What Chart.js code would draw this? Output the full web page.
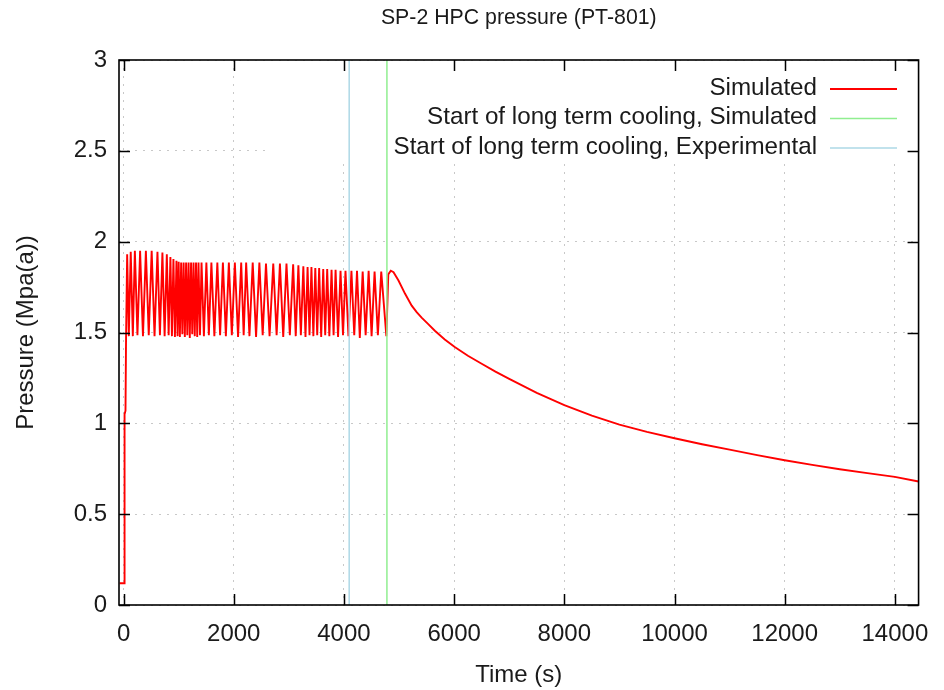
<!DOCTYPE html>
<html>
<head>
<meta charset="utf-8">
<title>SP-2 HPC pressure</title>
<script src="https://cdn.jsdelivr.net/npm/chart.js@4.4.1/dist/chart.umd.min.js"></script>
<style>
  html, body { margin: 0; padding: 0; background: #fff; }
</style>
</head>
<body>
<canvas id="pressure-chart" width="944" height="690"></canvas>
<script>
// SP-2 HPC pressure, PT-801 — simulated trace plus the two long term cooling markers

const FONT = "'Liberation Sans', Arial, sans-serif";

const xTicks = [0, 2000, 4000, 6000, 8000, 10000, 12000, 14000];
const yTicks = [0, 0.5, 1, 1.5, 2, 2.5, 3];
const X_MIN = -83;
const X_MAX = 14430;

// [time s, pressure MPa(a)]
const rampUp = [
    [-72, 0.12], [18, 0.12], [18, 1.05], [35, 1.07]
];

// relief valve cycling until long term cooling starts
const cycling = [
    [45, 1.47], [65, 1.93], [95, 1.48], [130, 1.945], [168, 1.48], [205, 1.95],
    [252, 1.485], [300, 1.95], [352, 1.48], [405, 1.95], [457, 1.485], [510, 1.95],
    [562, 1.48], [615, 1.945], [660, 1.485], [705, 1.94], [745, 1.48], [785, 1.93],
    [818, 1.485], [850, 1.915], [878, 1.48], [905, 1.905], [932, 1.475], [960, 1.895],
    [980, 1.48], [1000, 1.89], [1022, 1.475], [1045, 1.885], [1067, 1.49], [1090, 1.885],
    [1112, 1.475], [1135, 1.885], [1157, 1.485], [1180, 1.885], [1202, 1.47], [1225, 1.885],
    [1247, 1.49], [1270, 1.885], [1292, 1.48], [1315, 1.885], [1337, 1.475], [1360, 1.885],
    [1387, 1.485], [1415, 1.885], [1458, 1.48], [1503, 1.885], [1548, 1.485], [1594, 1.885],
    [1648, 1.48], [1702, 1.885], [1752, 1.485], [1803, 1.885], [1857, 1.48], [1911, 1.885],
    [1965, 1.485], [2020, 1.885], [2078, 1.475], [2135, 1.885], [2180, 1.485], [2225, 1.885],
    [2285, 1.48], [2344, 1.885], [2405, 1.475], [2465, 1.885], [2525, 1.485], [2585, 1.88],
    [2650, 1.48], [2717, 1.88], [2778, 1.485], [2838, 1.88], [2898, 1.475], [2957, 1.88],
    [3018, 1.485], [3078, 1.875], [3125, 1.48], [3173, 1.87], [3218, 1.485], [3263, 1.865],
    [3302, 1.475], [3340, 1.86], [3375, 1.485], [3410, 1.86], [3445, 1.48], [3480, 1.855],
    [3515, 1.485], [3550, 1.855], [3587, 1.475], [3624, 1.85], [3660, 1.485], [3696, 1.85],
    [3735, 1.48], [3775, 1.845], [3812, 1.485], [3848, 1.845], [3893, 1.475], [3938, 1.84],
    [3983, 1.485], [4028, 1.84], [4082, 1.48], [4136, 1.84], [4187, 1.485], [4237, 1.84],
    [4288, 1.47], [4340, 1.835], [4394, 1.485], [4448, 1.84], [4502, 1.48], [4556, 1.835],
    [4616, 1.485], [4677, 1.835], [4770, 1.48]
];

const cooldown = [
    [4805, 1.82], [4850, 1.84], [4900, 1.832], [4990, 1.786], [5110, 1.713], [5230, 1.648],
    [5320, 1.612], [5410, 1.582], [5530, 1.546], [5650, 1.51], [5830, 1.462], [6011, 1.42],
    [6250, 1.372], [6500, 1.328], [6750, 1.285], [7000, 1.245], [7500, 1.168], [8000, 1.10],
    [8500, 1.042], [9000, 0.993], [9500, 0.953], [10000, 0.918], [10500, 0.885], [11000, 0.855],
    [11500, 0.825], [12000, 0.797], [12500, 0.771], [13000, 0.747], [13500, 0.726],
    [14000, 0.705], [14430, 0.68]
];

const coolingStartSim = 4780;
const coolingStartExp = 4095;

const toPoints = rows => rows.map(([x, y]) => ({ x, y }));
const marker = t => [{ x: t, y: yTicks[0] }, { x: t, y: yTicks[yTicks.length - 1] }];

// gnuplot-ish frame: mirrored inward ticks, key box that hides the grid
const framePlugin = {
    id: 'gnuplot-frame',
    beforeDatasetsDraw(chart) {
        const { ctx, chartArea: { right, top } } = chart;
        ctx.save();
        ctx.fillStyle = '#fff';
        ctx.fillRect(270, top + 1, right - 271, 101);
        ctx.restore();
    },
    afterDatasetsDraw(chart) {
        const { ctx, chartArea: { left, right, top, bottom }, scales: { x, y } } = chart;
        const len = 11;
        ctx.save();
        ctx.strokeStyle = '#000';
        ctx.lineWidth = 1.5;
        ctx.beginPath();
        xTicks.forEach(v => {
            const px = Math.round(x.getPixelForValue(v)) + 0.5;
            ctx.moveTo(px, bottom); ctx.lineTo(px, bottom - len);
            ctx.moveTo(px, top); ctx.lineTo(px, top + len);
        });
        yTicks.forEach(v => {
            const py = Math.round(y.getPixelForValue(v)) + 0.5;
            ctx.moveTo(left, py); ctx.lineTo(left + len, py);
            ctx.moveTo(right, py); ctx.lineTo(right - len, py);
        });
        ctx.stroke();
        ctx.lineWidth = 1.6;
        ctx.strokeRect(left, top, right - left, bottom - top);

        // key, text right aligned with the line sample after it
        ctx.font = `24.2px ${FONT}`;
        ctx.textAlign = 'right';
        ctx.textBaseline = 'middle';
        chart.data.datasets.forEach((ds, i) => {
            const ky = 88 + i * 29.5;
            ctx.fillStyle = '#1a1a1a';
            ctx.fillText(ds.label, 817, ky);
            ctx.beginPath();
            ctx.strokeStyle = ds.borderColor;
            ctx.lineWidth = ds.borderWidth;
            ctx.moveTo(830, ky + 1);
            ctx.lineTo(897, ky + 1);
            ctx.stroke();
        });
        ctx.restore();
    }
};

new Chart(document.getElementById('pressure-chart'), {
    type: 'line',
    data: {
        datasets: [
            {
                label: 'Simulated',
                data: toPoints([...rampUp, ...cycling, ...cooldown]),
                borderColor: '#ff0000',
                borderWidth: 1.9,
                order: 3
            },
            {
                label: 'Start of long term cooling, Simulated',
                data: marker(coolingStartSim),
                borderColor: '#90ee90',
                borderWidth: 1.5,
                order: 2
            },
            {
                label: 'Start of long term cooling, Experimental',
                data: marker(coolingStartExp),
                borderColor: '#add8e6',
                borderWidth: 1.5,
                order: 1
            }
        ]
    },
    options: {
        responsive: false,
        animation: false,
        events: [],
        elements: {
            point: { radius: 0 },
            line: { tension: 0, fill: false }
        },
        layout: { padding: { left: 0, right: 20, top: 0, bottom: 0 } },
        plugins: {
            legend: { display: false },
            tooltip: { enabled: false },
            title: {
                display: true,
                fullSize: false,
                text: 'SP-2 HPC pressure (PT-801)',
                color: '#1a1a1a',
                font: { family: FONT, size: 21.3, weight: 'normal' },
                padding: { top: 5, bottom: 29.44 }
            }
        },
        scales: {
            x: {
                type: 'linear',
                min: X_MIN,
                max: X_MAX,
                afterBuildTicks: s => { s.ticks = xTicks.map(v => ({ value: v })); },
                afterFit: s => { s.height = 85; },
                grid: { color: '#c8c8c8', lineWidth: 1, drawTicks: false },
                border: { display: false, dash: [2, 6] },
                ticks: {
                    autoSkip: false,
                    maxRotation: 0,
                    padding: 15,
                    color: '#1a1a1a',
                    font: { family: FONT, size: 24 },
                    callback: v => String(v)
                },
                title: {
                    display: true,
                    text: 'Time (s)',
                    color: '#1a1a1a',
                    font: { family: FONT, size: 24 },
                    padding: { top: 0, bottom: 0 }
                }
            },
            y: {
                type: 'linear',
                min: yTicks[0],
                max: yTicks[yTicks.length - 1],
                afterBuildTicks: s => { s.ticks = yTicks.map(v => ({ value: v })); },
                afterFit: s => { s.width = 119; },
                grid: { color: '#c8c8c8', lineWidth: 1, drawTicks: false },
                border: { display: false, dash: [2, 6] },
                ticks: {
                    padding: 12,
                    color: '#1a1a1a',
                    font: { family: FONT, size: 24 },
                    callback: v => String(v)
                },
                title: {
                    display: true,
                    text: 'Pressure (Mpa(a))',
                    color: '#1a1a1a',
                    font: { family: FONT, size: 24 },
                    padding: { top: 12, bottom: 0 }
                }
            }
        }
    },
    plugins: [framePlugin]
});
</script>
</body>
</html>
